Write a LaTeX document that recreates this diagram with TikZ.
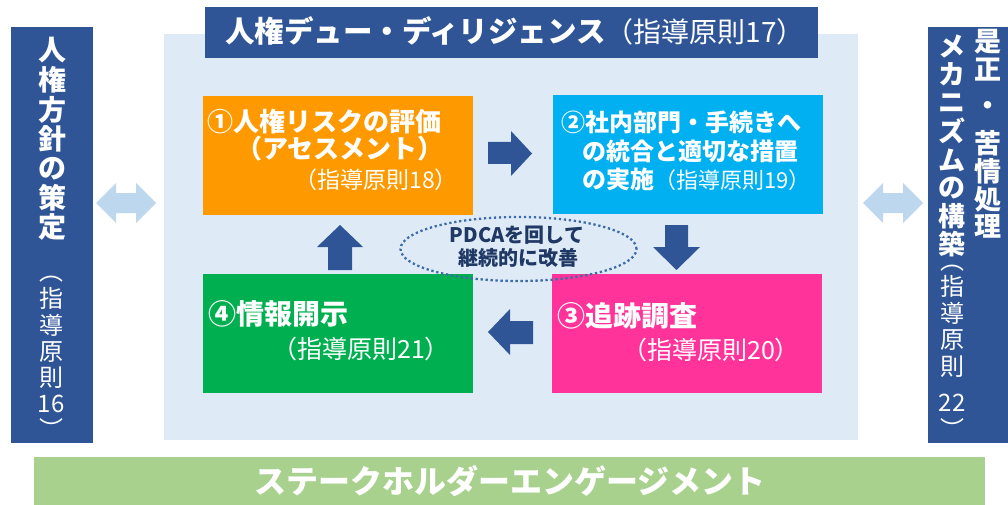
\documentclass[tikz,border=0pt]{standalone}
\usepackage{fontspec}
\setmainfont{Noto Sans CJK JP}
\usetikzlibrary{shapes.geometric}
\definecolor{navy}{HTML}{2F5597}
\definecolor{panelbg}{HTML}{DEEBF7}
\definecolor{dblarrow}{HTML}{BDD7EE}
\definecolor{boxorange}{HTML}{FF9900}
\definecolor{boxcyan}{HTML}{00B0F0}
\definecolor{boxgreen}{HTML}{00B050}
\definecolor{boxpink}{HTML}{FF3399}
\definecolor{barlime}{HTML}{A9D18E}
\definecolor{ringblue}{HTML}{3E6CA8}
\definecolor{ringtext}{HTML}{1F3864}
\newcommand\fsz[1]{\fontsize{#1}{#1}\selectfont}
\begin{document}
\begin{tikzpicture}[x=1pt,y=-1pt,
  every node/.style={inner sep=0pt,outer sep=0pt},
  blk/.style={rectangle,draw=none,anchor=north west},
  headbf/.style={text=white,font=\fsz{#1}\bfseries},
  headrg/.style={text=white,font=\fsz{#1}},
  ring/.style={ellipse,draw=ringblue,line width=2.3pt,dash pattern=on 2.3pt off 2.7pt,minimum width=236pt,minimum height=64pt},
  ringtxt/.style={text=ringtext,font=\fsz{20}\bfseries}]
\useasboundingbox (0,0) rectangle (1008,505);
% panels
\node[blk,fill=panelbg,minimum width=694pt,minimum height=406pt] (bg) at (164,34) {};
\node[blk,fill=navy,minimum width=82pt,minimum height=416pt] (lp) at (11,27) {};
\node[blk,fill=navy,minimum width=80pt,minimum height=416pt] (rp) at (928,27) {};
\node[blk,fill=navy,minimum width=613pt,minimum height=51pt] (tb) at (205,7) {};
\node[blk,fill=barlime,minimum width=951pt,minimum height=48pt] (bb) at (34,457) {};
% boxes
\node[blk,fill=boxorange,minimum width=270pt,minimum height=119pt] (b1) at (203,96) {};
\node[blk,fill=boxcyan,minimum width=270pt,minimum height=119pt] (b2) at (553,95) {};
\node[blk,fill=boxpink,minimum width=270pt,minimum height=119pt] (b3) at (552,274) {};
\node[blk,fill=boxgreen,minimum width=270pt,minimum height=119pt] (b4) at (203,274) {};
% block arrows
\fill[navy] (488,142) -- (511,142) -- (511,131) -- (532,153.5) -- (511,176) -- (511,164) -- (488,164) -- cycle;
\fill[navy] (665,225) -- (688,225) -- (688,247) -- (700,247) -- (676.5,270) -- (653,247) -- (665,247) -- cycle;
\fill[navy] (533,321) -- (510,321) -- (510,309) -- (488,332) -- (510,355) -- (510,344) -- (533,344) -- cycle;
\fill[navy] (328,270) -- (352,270) -- (352,247) -- (363,247) -- (340,225) -- (317,247) -- (328,247) -- cycle;
% double arrows
\fill[dblarrow] (96,203) -- (116,183) -- (116,193) -- (136,193) -- (136,183) -- (156,203) -- (136,223) -- (136,213) -- (116,213) -- (116,223) -- cycle;
\fill[dblarrow] (863,203) -- (883,183) -- (883,193) -- (903,193) -- (903,183) -- (923,203) -- (903,223) -- (903,213) -- (883,213) -- (883,223) -- cycle;
% PDCA ring
\node[ring] (pdcaring) at (518.5,249) {};
\node[ringtxt] (pdca1) at (517,235) {PDCAを回して};
\node[ringtxt] (pdca2) at (518,258) {継続的に改善};
% title
\node[anchor=west,text=white] (title) at (225,31) {\fsz{29.5}\bfseries 人権デュー・ディリジェンス\fsz{28}\mdseries（指導原則17）};
% box texts
\node[headbf=26,anchor=west] (t1a) at (207,122) {①人権リスクの評価};
\node[headbf=26] (t1b) at (340,149) {（アセスメント）};
\node[headrg=23] (t1c) at (376,180) {（指導原則18）};
\node[headbf=24,anchor=west] (t2a) at (561,122) {②社内部門・手続きへ};
\node[headbf=24,anchor=west] (t2b) at (582,151) {の統合と適切な措置};
\node[headbf=24,anchor=west] (t2c) at (582,179) {の実施{\fsz{22}\mdseries（指導原則19）}};
\node[headbf=28,anchor=west] (t3a) at (557,316) {③追跡調査};
\node[headrg=25] (t3b) at (711,350) {（指導原則20）};
\node[headbf=28,anchor=west] (t4a) at (208,314) {④情報開示};
\node[headrg=25] (t4b) at (361,349) {（指導原則21）};
% bottom bar
\node[headbf=32] (stk) at (510,481) {ステークホルダーエンゲージメント};
% left vertical text
\foreach \c/\y [count=\i] in {人/50,権/80,方/110,針/139,の/169,策/198,定/227}
  \node[headbf=28] (lv\i) at (52,\y) {\c};
\foreach \c/\y [count=\i] in {︵/279,指/298,導/325,原/352,則/378,16/404,︶/428}
  \node[headrg=24] (lr\i) at (51,\y) {\c};
% right vertical text
\foreach \c/\y [count=\i] in {是/42,正/70,・/108,苦/143,情/171,処/199,理/226}
  \node[headbf=27] (rv\i) at (988,\y) {\c};
\foreach \c/\y [count=\i] in {メ/46,カ/74,ニ/103,ズ/131,ム/160,の/188,構/216,築/244}
  \node[headbf=27] (rw\i) at (952,\y) {\c};
\foreach \c/\y [count=\i] in {︵/268,指/286,導/313,原/340,則/367,22/403,︶/428}
  \node[headrg=24] (rr\i) at (952,\y) {\c};
\end{tikzpicture}
\end{document}
